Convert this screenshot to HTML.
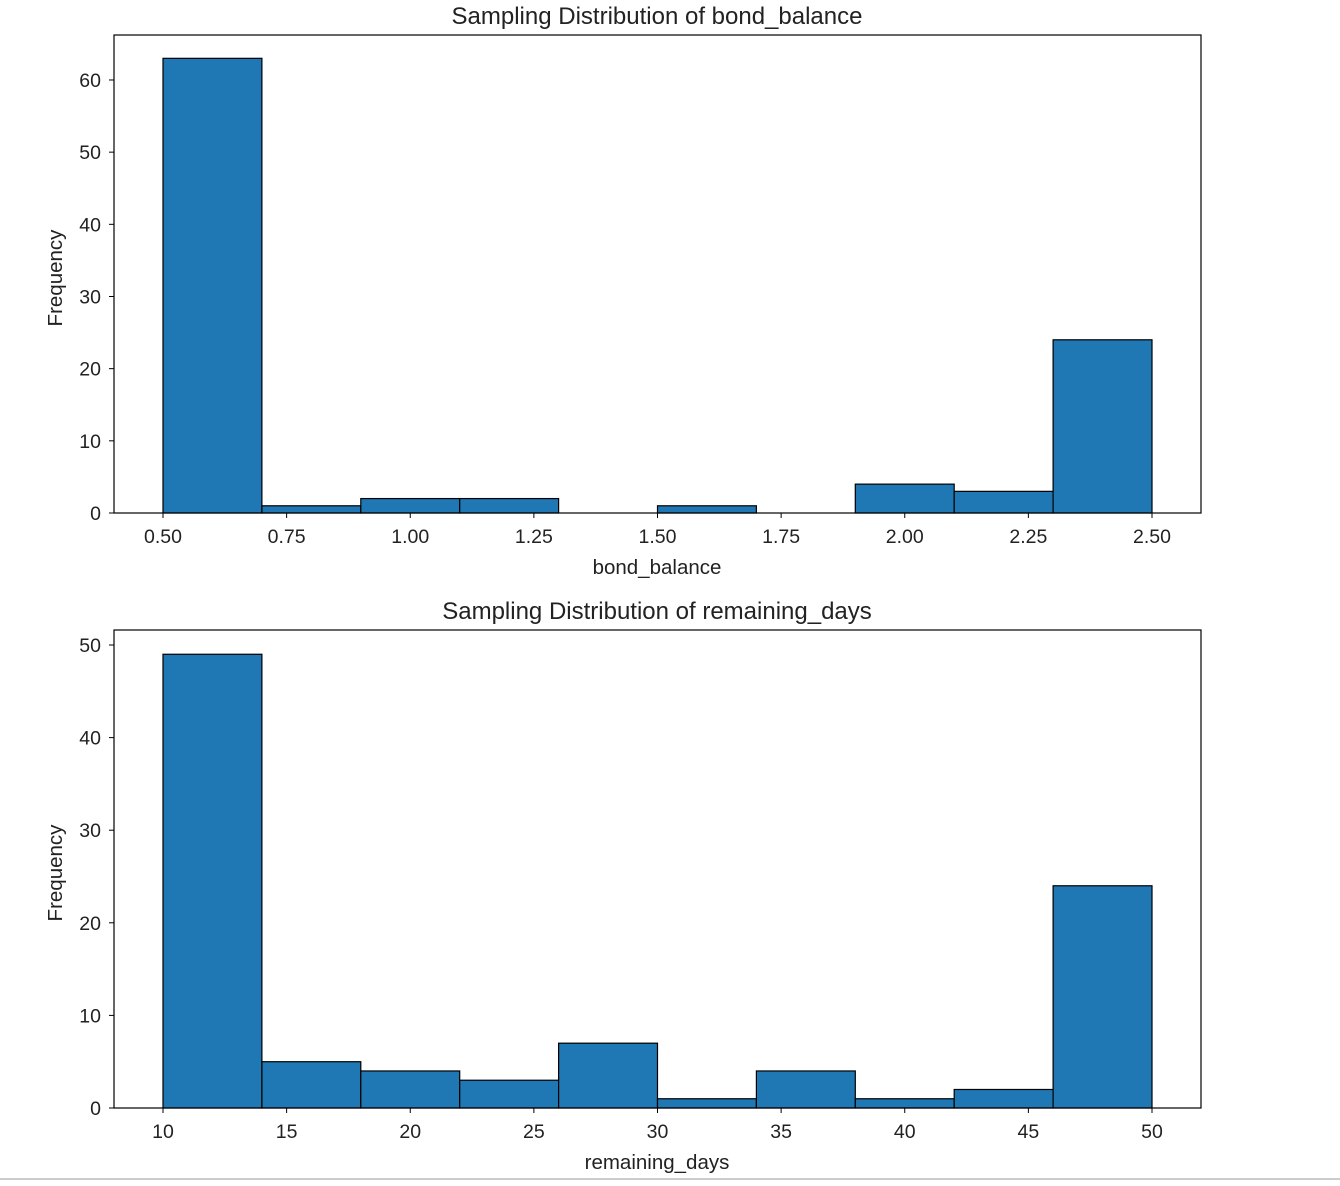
<!DOCTYPE html>
<html><head><meta charset="utf-8"><style>
body{margin:0;background:#fff;width:1340px;height:1181px;overflow:hidden;font-family:"Liberation Sans",sans-serif;}
svg text{font-family:"Liberation Sans",sans-serif;fill:#222;}
</style></head><body>
<svg id="chart" width="1340" height="1181"></svg>
<script>
const topTicks=[0.5,0.75,1.0,1.25,1.5,1.75,2.0,2.25,2.5];
const topTickLabels=["0.50","0.75","1.00","1.25","1.50","1.75","2.00","2.25","2.50"];
const topYTicks=[0,10,20,30,40,50,60];
const topBinStart=0.5, topBinWidth=0.2;
const topCounts=[63,1,2,2,0,1,0,4,3,24];
const botTicks=[10,15,20,25,30,35,40,45,50];
const botTickLabels=["10","15","20","25","30","35","40","45","50"];
const botYTicks=[0,10,20,30,40,50];
const botBinStart=10, botBinWidth=4;
const botCounts=[49,5,4,3,7,1,4,1,2,24];

const NS="http://www.w3.org/2000/svg";
const svg=document.getElementById('chart');
function mk(tag,attrs,parent){const e=document.createElementNS(NS,tag);for(const k in attrs)e.setAttribute(k,attrs[k]);(parent||svg).appendChild(e);return e;}

function panel(cfg){
  const g=mk('g',{});
  
  
  const x=v=>cfg.x0px+(v-cfg.x0)*cfg.xs;
  const y=v=>cfg.bottom-v*cfg.ys;
  cfg.counts.forEach((c,i)=>{
    const a=cfg.binStart+i*cfg.binWidth, b=a+cfg.binWidth;
    const r=mk('rect',{x:x(a),y:y(c),width:x(b)-x(a),height:y(0)-y(c),fill:'#1f77b4',stroke:'#000','stroke-width':1.2},g);
    
    
  });
  const box=mk('rect',{x:114,y:cfg.top,width:1087,height:cfg.bottom-cfg.top,fill:'none',stroke:'#000','stroke-width':1.2},g);
  
  
  cfg.ticks.forEach((t,i)=>{
    mk('line',{x1:x(t),x2:x(t),y1:cfg.bottom,y2:cfg.bottom+5,stroke:'#000'},g);
    const tx=mk('text',{x:x(t),y:cfg.bottom+30,'text-anchor':'middle','font-size':'19.5'},g);
    tx.textContent=cfg.tickLabels[i];
    
    
  });
  cfg.yTicks.forEach(t=>{
    mk('line',{x1:109,x2:114,y1:y(t),y2:y(t),stroke:'#000'},g);
    const tx=mk('text',{x:101,y:y(t)+7,'text-anchor':'end','font-size':'19.5'},g);
    tx.textContent=t;
    
    
  });
  const tt=mk('text',{x:657,y:cfg.top-11,'text-anchor':'middle','font-size':'24'},g);
  tt.textContent=cfg.title;
  
  
  const xl=mk('text',{x:657,y:cfg.bottom+61,'text-anchor':'middle','font-size':'20.5'},g);
  xl.textContent=cfg.xlabel;
  
  
  const cy=(cfg.top+cfg.bottom)/2+4;
  const yl=mk('text',{x:62,y:cy,'text-anchor':'middle','font-size':'20.5',transform:`rotate(-90 62 ${cy})`},g);
  yl.textContent='Frequency';
  
  
}
panel({name:'bond-balance-histogram',top:35,bottom:513,x0:0.5,x0px:163,xs:494.5,ys:7.217,
  counts:topCounts,binStart:topBinStart,binWidth:topBinWidth,ticks:topTicks,tickLabels:topTickLabels,yTicks:topYTicks,
  title:'Sampling Distribution of bond_balance',xlabel:'bond_balance'});
panel({name:'remaining-days-histogram',top:630,bottom:1108,x0:10,x0px:163,xs:24.725,ys:9.26,
  counts:botCounts,binStart:botBinStart,binWidth:botBinWidth,ticks:botTicks,tickLabels:botTickLabels,yTicks:botYTicks,
  title:'Sampling Distribution of remaining_days',xlabel:'remaining_days'});
const sep=mk('line',{x1:0,x2:1340,y1:1179,y2:1179,stroke:'#ccc','stroke-width':2});


</script>
</body></html>
